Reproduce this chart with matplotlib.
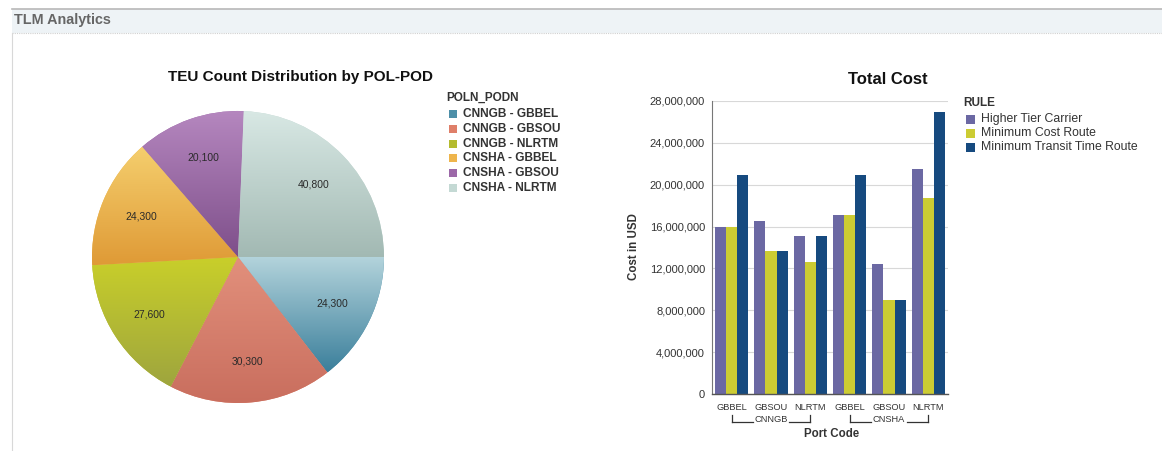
import numpy as np
import matplotlib
matplotlib.use("Agg")
import matplotlib.pyplot as plt
import matplotlib.transforms as mtransforms
from matplotlib.patches import Rectangle
from matplotlib.lines import Line2D
from matplotlib.colors import to_rgb

plt.rcParams['font.family'] = ['Liberation Sans', 'DejaVu Sans']

# pie data
pie_labels = ["CNNGB - GBBEL", "CNNGB - GBSOU", "CNNGB - NLRTM",
              "CNSHA - GBBEL", "CNSHA - GBSOU", "CNSHA - NLRTM"]
teu_counts = [24300, 30300, 27600, 24300, 20100, 40800]
pie_colors = ["#4d8fa8", "#df7f69", "#b4bb2e", "#eeb54c", "#9c68a8", "#c4d9d4"]
pie_grad = [("#b4d4dc", "#3b7f9b"), ("#e2907c", "#c96e5e"), ("#c9cf2a", "#9ea53e"),
            ("#f5cf6e", "#df9a36"), ("#b587bf", "#7e4f8a"), ("#d8e8e4", "#a2b9b3")]

# bar data
pols = ["CNNGB", "CNSHA"]
pods = ["GBBEL", "GBSOU", "NLRTM", "GBBEL", "GBSOU", "NLRTM"]
rules = ["Higher Tier Carrier", "Minimum Cost Route", "Minimum Transit Time Route"]
higher_tier = [16.0e6, 16.55e6, 15.1e6, 17.1e6, 12.45e6, 21.45e6]
min_cost = [16.0e6, 13.65e6, 12.65e6, 17.1e6, 9.0e6, 18.75e6]
min_transit = [20.9e6, 13.65e6, 15.1e6, 20.9e6, 9.0e6, 26.9e6]
bar_colors = ["#6b68a3", "#cccc33", "#164a7f"]

W, H = 1162, 451
fig = plt.figure(figsize=(W / 100, H / 100), dpi=100)


def fx(px):
    return px / W


def fy(py):
    return 1 - py / H


# header
fig.patches.append(Rectangle((fx(12), fy(33)), fx(1150), fy(9) - fy(33), transform=fig.transFigure,
                             facecolor="#eef3f6", edgecolor="none", zorder=0))
fig.add_artist(Line2D([fx(12), fx(1162)], [fy(8.5), fy(8.5)], color="#b8b8b8", lw=1.2))
fig.add_artist(Line2D([fx(12), fx(1162)], [fy(33), fy(33)], color="#d0d0d0", lw=0.8, ls=(0, (1, 1))))
fig.add_artist(Line2D([fx(12), fx(12)], [fy(33), fy(451)], color="#d8d8d8", lw=0.8))
fig.text(fx(14), fy(20), "TLM Analytics", fontsize=10.4, fontweight="bold", color="#666666", va="center")

# ---- pie ----
cx, cy, r = 238, 257, 146
axp = fig.add_axes([fx(cx - r), fy(cy + r), fx(2 * r), fy(cy - r) - fy(cy + r)])
wedges, _ = axp.pie(teu_counts, colors=pie_colors, startangle=0, counterclock=False,
                    radius=1, wedgeprops=dict(linewidth=0))
axp.set_xlim(-1, 1)
axp.set_ylim(-1, 1)
axp.set_aspect("auto")
axp.axis("off")

for w, (c1, c2), val in zip(wedges, pie_grad, teu_counts):
    ext = w.get_path().get_extents()
    t = np.linspace(0, 1, 256)[:, None]
    a, b = np.array(to_rgb(c1)), np.array(to_rgb(c2))
    img = a[None, None, :] * (1 - t[:, :, None]) + b[None, None, :] * t[:, :, None]
    im = axp.imshow(img, extent=[ext.x0, ext.x1, ext.y0, ext.y1], origin="upper",
                    aspect="auto", zorder=2, interpolation="bilinear")
    im.set_clip_path(w)
    mid = np.deg2rad((w.theta1 + w.theta2) / 2)
    axp.text(0.72 * np.cos(mid), 0.72 * np.sin(mid), f"{val:,}", ha="center", va="center",
             fontsize=7.5, color="#2a2a2a", zorder=3)
axp.set_xlim(-1, 1)
axp.set_ylim(-1, 1)

fig.text(fx(301), fy(77), "TEU Count Distribution by POL-POD", fontsize=11, fontweight="bold",
         ha="center", va="center", color="#111111")
fig.text(fx(446), fy(98), "POLN_PODN", fontsize=8.5, fontweight="bold", va="center", color="#333333")
for i, (lab, col) in enumerate(zip(pie_labels, pie_colors)):
    yy = 114 + i * 14.8
    fig.patches.append(Rectangle((fx(449), fy(yy + 4)), fx(8), fy(yy - 4) - fy(yy + 4),
                                 transform=fig.transFigure, facecolor=col, edgecolor="none"))
    fig.text(fx(463), fy(yy), lab, fontsize=8.6, fontweight="bold", va="center", color="#333333")

# ---- bars ----
axb = fig.add_axes([fx(712), fy(394.3), fx(948 - 712), fy(100.7) - fy(394.3)])
x = np.arange(len(pods))
bw = 0.283
for k, (vals, col) in enumerate(zip([higher_tier, min_cost, min_transit], bar_colors)):
    axb.bar(x + (k - 1) * bw, vals, width=bw, color=col, zorder=2, linewidth=0)
axb.set_xlim(-0.5, 5.5)
axb.set_ylim(0, 28e6)
axb.set_yticks(np.arange(0, 28e6 + 1, 4e6))
axb.set_yticklabels([f"{int(v):,}" for v in np.arange(0, 28e6 + 1, 4e6)], fontsize=8, color="#333333")
axb.tick_params(axis="y", length=0, pad=5)
axb.set_xticks([])
axb.grid(axis="y", color="#d8d8d8", lw=0.8, zorder=0)
for s in ["top", "right"]:
    axb.spines[s].set_visible(False)
axb.spines["left"].set_color("#777777")
axb.spines["left"].set_linewidth(0.8)
axb.spines["bottom"].set_color("#555555")
axb.spines["bottom"].set_linewidth(1.0)

tr = mtransforms.blended_transform_factory(axb.transData, fig.transFigure)
for i, p in enumerate(pods):
    axb.text(i, fy(408), p, transform=tr, ha="center", va="center", fontsize=6.7, color="#333333")
for g, pol in enumerate(pols):
    x0, x1 = 3 * g, 3 * g + 2
    xm = 3 * g + 1
    axb.text(xm, fy(420), pol, transform=tr, ha="center", va="center", fontsize=6.7, color="#333333")
    for xs in [[x0, xm - 0.46], [xm + 0.46, x1]]:
        axb.add_line(Line2D(xs, [fy(421.5)] * 2, transform=tr, color="#333333", lw=0.9, clip_on=False))
    for xe in [x0, x1]:
        axb.add_line(Line2D([xe, xe], [fy(414.5), fy(421.5)], transform=tr, color="#333333", lw=0.9,
                            clip_on=False))

fig.text(fx(832), fy(434), "Port Code", fontsize=8.3, fontweight="bold", ha="center", va="center",
         color="#333333")
fig.text(fx(634), fy(247), "Cost in USD", fontsize=8.3, fontweight="bold", ha="center", va="center",
         rotation=90, color="#333333")
fig.text(fx(888), fy(79), "Total Cost", fontsize=12, fontweight="bold", ha="center", va="center",
         color="#111111")

fig.text(fx(963), fy(103), "RULE", fontsize=8.5, fontweight="bold", va="center", color="#333333")
for i, (lab, col) in enumerate(zip(rules, bar_colors)):
    yy = 119.5 + i * 14
    fig.patches.append(Rectangle((fx(966), fy(yy + 4.5)), fx(9), fy(yy - 4.5) - fy(yy + 4.5),
                                 transform=fig.transFigure, facecolor=col, edgecolor="none"))
    fig.text(fx(981), fy(yy), lab, fontsize=8.8, va="center", color="#333333")

fig.savefig("out.png", dpi=100)
